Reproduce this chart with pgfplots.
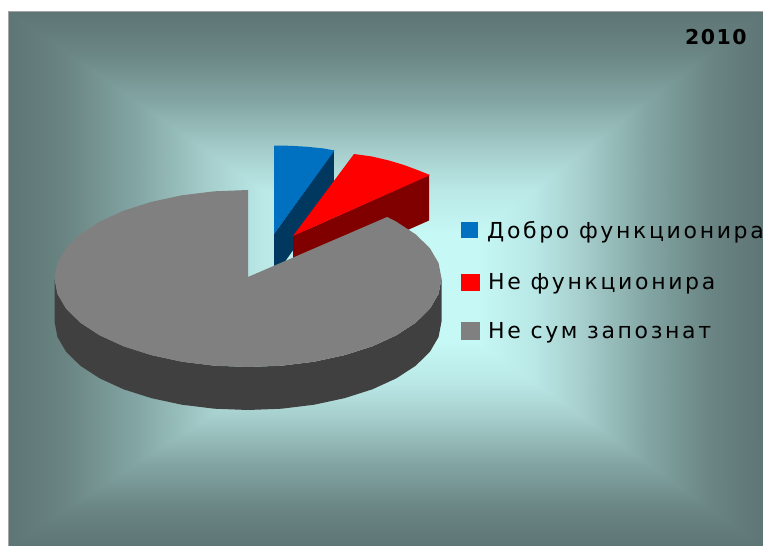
\documentclass[border=0pt]{standalone}
\usepackage{pgfplots}
\pgfplotsset{compat=1.18}
\usepackage{fontspec}
\setmainfont{DejaVu Sans}
\newfontfamily\leg[LetterSpace=12]{DejaVu Sans}
\newfontfamily\ttl[LetterSpace=7]{DejaVu Sans}
\definecolor{cblue}{RGB}{0,112,192}
\definecolor{cblued}{RGB}{0,56,96}
\definecolor{cred}{RGB}{255,0,0}
\definecolor{credd}{RGB}{128,0,0}
\definecolor{cgray}{RGB}{128,128,128}
\definecolor{cgrayd}{RGB}{64,64,64}
\definecolor{cframe}{RGB}{165,165,165}
\begin{document}
\begin{tikzpicture}
\useasboundingbox (0,0) rectangle (763pt,546pt);
\begin{axis}[at={(0,0)},anchor=south west,scale only axis,width=763pt,height=546pt,
  xmin=0,xmax=763,ymin=0,ymax=546,y dir=reverse,hide axis,clip=false,
  colormap={bg}{rgb255(0)=(199,249,247) rgb255(20)=(198,248,246) rgb255(36)=(185,232,230) rgb255(50)=(165,205,203) rgb255(68)=(130,165,163) rgb255(86)=(105,132,130) rgb255(100)=(94,117,117)},
  point meta min=0,point meta max=100]
% background: rectangular gradient, four triangles
\addplot[patch,shader=interp,point meta=explicit] table[meta=c]{
x y c
405 290 0
8 11 100
763 11 100
405 290 0
763 11 100
763 546 100
405 290 0
763 546 100
8 546 100
405 290 0
8 546 100
8 11 100
};
\addplot[draw=cframe,line width=0.9pt] coordinates {(8,546)(8,11)(763,11)};
% blue slice (about 5%)
\addplot[fill=cblued,draw=none] coordinates {(274,234)(333.8,150)(333.8,193)(274,277)} -- cycle;
\addplot[fill=cblue,draw=none] coordinates {(274,234)(274,145.5)(290.9,145.8)(307.6,146.8)(324.1,148.5)(334.5,150.5)} -- cycle;
% red slice (about 8%)
\addplot[fill=credd,draw=none] coordinates {(293,236)(429,175)(429,220.5)(293,281)} -- cycle;
\addplot[fill=cred,draw=none] coordinates {(293,236)(354,154)(372,156.5)(389,160.5)(404,165)(417.4,170)(430,175)} -- cycle;
% grey slice (about 87%)
\addplot[fill=cgrayd,draw=none] coordinates {(441.5,278.5)(438.6,293.9)(429.9,308.8)(415.6,322.8)(396.2,335.4)(372.4,346.3)(344.8,355.1)(314.2,361.7)(281.6,365.7)(248,367)(214.4,365.7)(181.8,361.7)(151.2,355.1)(123.6,346.3)(99.8,335.4)(80.4,322.8)(66.1,308.8)(57.4,293.9)(54.5,278.5)
(54.5,321.5)(57.4,336.9)(66.1,351.8)(80.4,365.8)(99.8,378.4)(123.6,389.3)(151.2,398.1)(181.8,404.7)(214.4,408.7)(248,410)(281.6,408.7)(314.2,404.7)(344.8,398.1)(372.4,389.3)(396.2,378.4)(415.6,365.8)(429.9,351.8)(438.6,336.9)(441.5,321.5)} -- cycle;
\addplot[fill=cgray,draw=none] coordinates {(248,277)(387.1,217)(396.2,221.6)(415.6,234.3)(429.9,248.2)(438.6,263.1)(441.5,278.5)(438.6,293.9)(429.9,308.8)(415.6,322.8)(396.2,335.4)(372.4,346.3)(344.8,355.1)(314.2,361.7)(281.6,365.7)(248,367)(214.4,365.7)(181.8,361.7)(151.2,355.1)(123.6,346.3)(99.8,335.4)(80.4,322.8)(66.1,308.8)(57.4,293.9)(54.5,278.5)(57.4,263.1)(66.1,248.2)(80.4,234.3)(99.8,221.6)(123.6,210.7)(151.2,201.9)(181.8,195.3)(214.4,191.3)(248,190)} -- cycle;
% legend keys
\addplot[fill=cblue,draw=none] coordinates {(461,222)(478,222)(478,238)(461,238)} -- cycle;
\addplot[fill=cred,draw=none] coordinates {(461,274)(480,274)(480,291)(461,291)} -- cycle;
\addplot[fill=cgray,draw=none] coordinates {(461,322)(480,322)(480,340)(461,340)} -- cycle;
\node[anchor=base west,inner sep=0pt,font=\fontsize{22pt}{24pt}\leg] at (axis cs:487,238) {Добро функционира};
\node[anchor=base west,inner sep=0pt,font=\fontsize{22pt}{24pt}\leg] at (axis cs:488,289) {Не функционира};
\node[anchor=base west,inner sep=0pt,font=\fontsize{22pt}{24pt}\leg] at (axis cs:488,338) {Не сум запознат};
\node[anchor=base west,inner sep=0pt,font=\fontsize{20.5pt}{24pt}\ttl\bfseries] at (axis cs:685,44) {2010};
\end{axis}
\end{tikzpicture}
\end{document}
